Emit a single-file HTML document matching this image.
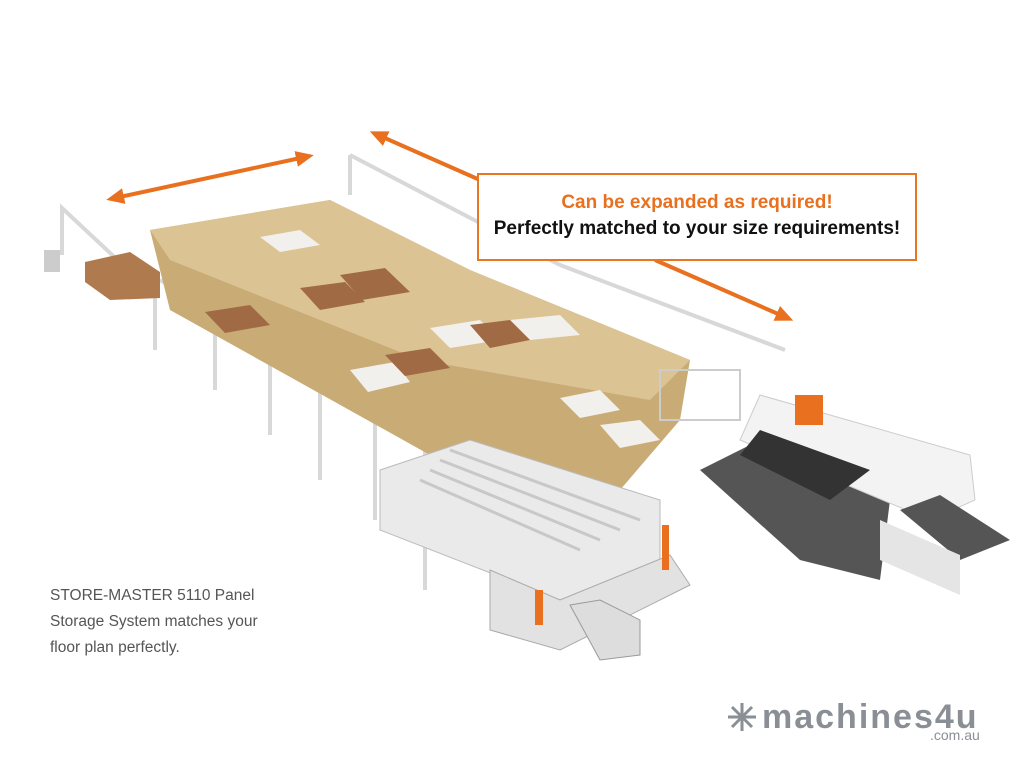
<!DOCTYPE html>
<html><head><meta charset="utf-8"><style>
html,body{margin:0;padding:0;background:#fff;}
body{width:1024px;height:768px;position:relative;overflow:hidden;font-family:"Liberation Sans",sans-serif;}
.box{position:absolute;left:477px;top:173px;width:436px;height:84px;border:2px solid #e87722;background:#fff;text-align:center;}
.l1{color:#e8701e;font-weight:bold;font-size:19px;margin-top:17px;}
.l2{color:#111;font-weight:bold;font-size:19px;margin-top:4px;}
.cap{position:absolute;left:50px;top:583px;color:#555;font-size:15.5px;line-height:26px;}
.logo{position:absolute;left:762px;top:697px;color:#8a8f96;font-size:34px;font-weight:bold;letter-spacing:2px;line-height:40px;}
.com{position:absolute;left:930px;top:727px;color:#8a8f96;font-size:14px;}
</style></head><body>
<svg width="1024" height="768" style="position:absolute;left:0;top:0">
<defs><marker id="a" markerUnits="userSpaceOnUse" markerWidth="18" markerHeight="16" refX="9" refY="8" orient="auto-start-reverse"><path d="M0,0 L18,8 L0,16 z" fill="#e8701e"/></marker></defs>
<g stroke="#e8701e" stroke-width="4" fill="none">
<line x1="115" y1="198" x2="305" y2="157" marker-start="url(#a)" marker-end="url(#a)"/>
<line x1="378" y1="135" x2="480" y2="180" marker-start="url(#a)"/>
<line x1="655" y1="260" x2="785" y2="317" marker-end="url(#a)"/>
</g>
<g stroke="#d8d8d8" stroke-width="4" fill="none">
<polyline points="62,255 62,208 155,295 155,350"/>
<line x1="350" y1="155" x2="350" y2="195"/>
<line x1="350" y1="155" x2="560" y2="265"/>
<line x1="560" y1="265" x2="785" y2="350"/>
<line x1="160" y1="280" x2="440" y2="445"/>
<line x1="215" y1="325" x2="215" y2="390"/><line x1="270" y1="355" x2="270" y2="435"/>
<line x1="320" y1="385" x2="320" y2="480"/><line x1="375" y1="420" x2="375" y2="520"/>
<line x1="425" y1="450" x2="425" y2="590"/>
</g>
<rect x="44" y="250" width="16" height="22" fill="#ccc"/>
<polygon points="85,262 130,252 160,272 160,298 110,300 85,282" fill="#b07a4f"/>
<polygon points="150,230 330,200 470,270 690,360 680,420 620,490 430,455 170,310" fill="#c9ab76"/>
<polygon points="150,230 330,200 470,270 690,360 650,400 420,360 170,260" fill="#dcc394"/>
<g fill="#f2f0ec"><polygon points="260,237 300,230 320,245 280,252"/><polygon points="430,328 480,320 500,340 450,348"/><polygon points="560,398 600,390 620,410 580,418"/><polygon points="600,425 640,420 660,440 620,448"/><polygon points="350,370 395,362 410,382 368,392"/><polygon points="510,320 560,315 580,335 530,340"/></g>
<g fill="#a06a45"><polygon points="300,288 345,282 365,302 320,310"/><polygon points="205,312 250,305 270,325 225,333"/><polygon points="340,275 385,268 410,292 362,300"/><polygon points="385,355 430,348 450,368 405,376"/><polygon points="470,325 510,320 530,340 490,348"/></g>
<polygon points="380,470 470,440 660,500 660,560 560,600 380,530" fill="#eaeaea" stroke="#bbb"/>
<g stroke="#c8c8c8" stroke-width="3"><line x1="430" y1="470" x2="600" y2="540"/><line x1="440" y1="460" x2="620" y2="530"/><line x1="450" y1="450" x2="640" y2="520"/><line x1="420" y1="480" x2="580" y2="550"/></g>
<polygon points="490,570 560,600 670,555 690,585 560,650 490,630" fill="#e2e2e2" stroke="#aaa"/>
<polygon points="570,605 600,600 640,620 640,655 600,660" fill="#ddd" stroke="#999"/>
<rect x="535" y="590" width="8" height="35" fill="#e8701e"/><rect x="662" y="525" width="7" height="45" fill="#e8701e"/>
<polygon points="700,470 760,440 890,500 880,580 800,560" fill="#555"/>
<polygon points="760,395 970,455 975,500 930,520 740,440" fill="#f3f3f3" stroke="#ccc"/>
<polygon points="760,430 870,470 830,500 740,455" fill="#333"/>
<polygon points="900,510 940,495 1010,540 960,560" fill="#555"/>
<polygon points="880,520 960,555 960,595 880,560" fill="#e5e5e5"/>
<rect x="795" y="395" width="28" height="30" fill="#e8701e"/>
<rect x="660" y="370" width="80" height="50" fill="none" stroke="#ccc" stroke-width="2"/>
<g stroke="#8a8f96" stroke-width="3"><line x1="742" y1="703" x2="742" y2="731"/><line x1="728" y1="717" x2="756" y2="717"/><line x1="732" y1="707" x2="752" y2="727"/><line x1="752" y1="707" x2="732" y2="727"/></g>
</svg>
<div class="box"><div class="l1">Can be expanded as required!</div><div class="l2">Perfectly matched to your size requirements!</div></div>
<div class="cap">STORE-MASTER 5110 Panel<br>Storage System matches your<br>floor plan perfectly.</div>
<div class="logo">machines4u</div>
<div class="com">.com.au</div>
</body></html>
